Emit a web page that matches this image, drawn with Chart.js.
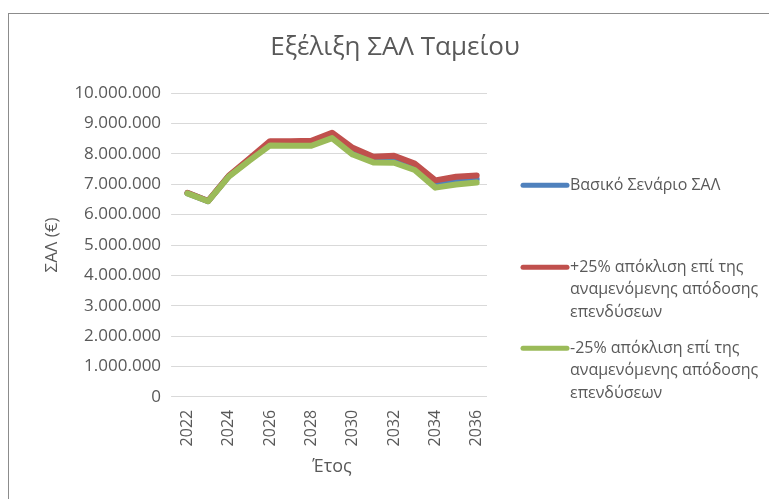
<!DOCTYPE html>
<html>
<head>
<meta charset="utf-8">
<script src="https://cdn.jsdelivr.net/npm/chart.js@4.4.0/dist/chart.umd.min.js"></script>
<style>
  body { margin: 0; background: #fff; overflow: hidden; }
  #wrap { position: relative; width: 769px; height: 499px; }
  #frame {
    position: absolute; left: 8px; top: 13px; width: 800px; height: 600px;
    border-left: 1px solid #8c8c8c; border-top: 1px solid #8c8c8c;
    pointer-events: none;
  }
</style>
</head>
<body>
<div id="wrap">
  <canvas id="line1" width="769" height="499"></canvas>
  <div id="frame"></div>
</div>
<script>
var years = ['2022', '2023', '2024', '2025', '2026', '2027', '2028', '2029',
             '2030', '2031', '2032', '2033', '2034', '2035', '2036'];

var baseScenario = [6710000, 6445000, 7265000, 7810000, 8350000, 8340000, 8350000, 8610000,
                    8090000, 7810000, 7820000, 7570000, 7000000, 7120000, 7170000];
var plus25 = [6720000, 6450000, 7280000, 7850000, 8420000, 8420000, 8430000, 8700000,
              8200000, 7910000, 7940000, 7680000, 7130000, 7250000, 7290000];
var minus25 = [6700000, 6440000, 7250000, 7780000, 8280000, 8270000, 8270000, 8520000,
               7980000, 7720000, 7710000, 7470000, 6890000, 6990000, 7060000];

var seriesNames = [
    ['Βασικό Σενάριο ΣΑΛ'],
    ['+25% απόκλιση επί της', 'αναμενόμενης απόδοσης', 'επενδύσεων'],
    ['-25% απόκλιση επί της', 'αναμενόμενης απόδοσης', 'επενδύσεων']
];

var textColor = '#595959';
var fontName = "'Open Sans', 'Noto Sans', sans-serif";
var legendWidth = 282;

function withDots(v) {
    return String(v).replace(/\B(?=(\d{3})+(?!\d))/g, '.');
}

// legend on the right, with wrapped lines like the original
var sideLegend = {
    id: 'sideLegend',
    beforeInit: function (chart) {
        var box = {
            position: 'right',
            weight: 10,
            fullSize: false,
            options: {},
            left: 0, top: 0, right: 0, bottom: 0, width: 0, height: 0,
            isHorizontal: function () { return false; },
            update: function (maxWidth, maxHeight) {
                this.width = legendWidth;
                this.height = maxHeight;
            },
            draw: function () {
                var ctx = chart.ctx;
                var top = chart.chartArea.top;
                var startY = [92, 174, 255];
                ctx.save();
                ctx.font = '16px ' + fontName;
                ctx.textBaseline = 'middle';
                ctx.textAlign = 'left';
                chart.data.datasets.forEach(function (ds, i) {
                    var y = top + startY[i];
                    ctx.strokeStyle = ds.borderColor;
                    ctx.lineWidth = 5;
                    ctx.lineCap = 'round';
                    ctx.beginPath();
                    ctx.moveTo(box.left + 36, y);
                    ctx.lineTo(box.left + 80, y);
                    ctx.stroke();
                    ctx.fillStyle = textColor;
                    seriesNames[i].forEach(function (t, j) {
                        ctx.fillText(t, box.left + 83, y + j * 22.7);
                    });
                });
                ctx.restore();
            }
        };
        Chart.layouts.addBox(chart, box);
    }
};

var lineCont = document.getElementById('line1');

var data = {
    labels: years,
    datasets: [{
        label: seriesNames[0].join(' '),
        data: baseScenario,
        borderColor: '#4F81BD',
        order: 3
    }, {
        label: seriesNames[1].join(' '),
        data: plus25,
        borderColor: '#C0504D',
        order: 2
    }, {
        label: seriesNames[2].join(' '),
        data: minus25,
        borderColor: '#9BBB59',
        order: 1
    }]
};

data.datasets.forEach(function (ds) {
    ds.borderWidth = 6;
    ds.pointRadius = 0;
    ds.pointHoverRadius = 0;
    ds.tension = 0;
    ds.fill = false;
    ds.borderJoinStyle = 'round';
    ds.borderCapStyle = 'round';
});

var myLineChart = new Chart(lineCont, {
    type: 'line',
    data: data,
    plugins: [sideLegend],
    options: {
        responsive: false,
        animation: false,
        devicePixelRatio: 1,
        layout: { padding: { left: 21, right: 0, top: 0, bottom: 0 } },
        plugins: {
            legend: { display: false },
            tooltip: { enabled: false },
            title: {
                display: true,
                text: 'Εξέλιξη ΣΑΛ Ταμείου',
                color: textColor,
                font: { family: fontName, size: 26, weight: 'normal' },
                padding: { top: 32, bottom: 30 }
            }
        },
        scales: {
            x: {
                offset: true,
                grid: { display: false, drawTicks: false },
                border: { display: false },
                ticks: {
                    autoSkip: false,
                    maxRotation: 90,
                    minRotation: 90,
                    padding: 13,
                    color: textColor,
                    font: { family: fontName, size: 16 },
                    callback: function (val, idx) {
                        return idx % 2 === 0 ? years[idx] : '';
                    }
                },
                title: {
                    display: true,
                    text: 'Έτος',
                    color: textColor,
                    font: { family: fontName, size: 18 },
                    padding: { top: -3, bottom: 21 }
                }
            },
            y: {
                min: 0,
                max: 10000000,
                grid: { color: '#d9d9d9', lineWidth: 1, drawTicks: true, tickLength: 6 },
                border: { display: false },
                ticks: {
                    stepSize: 1000000,
                    padding: 10,
                    color: textColor,
                    font: { family: fontName, size: 17 },
                    callback: function (v) { return withDots(v); }
                },
                title: {
                    display: true,
                    text: 'ΣΑΛ (€)',
                    color: textColor,
                    font: { family: fontName, size: 17 },
                    padding: { top: 21, bottom: 2 }
                }
            }
        }
    }
});
</script>
</body>
</html>
